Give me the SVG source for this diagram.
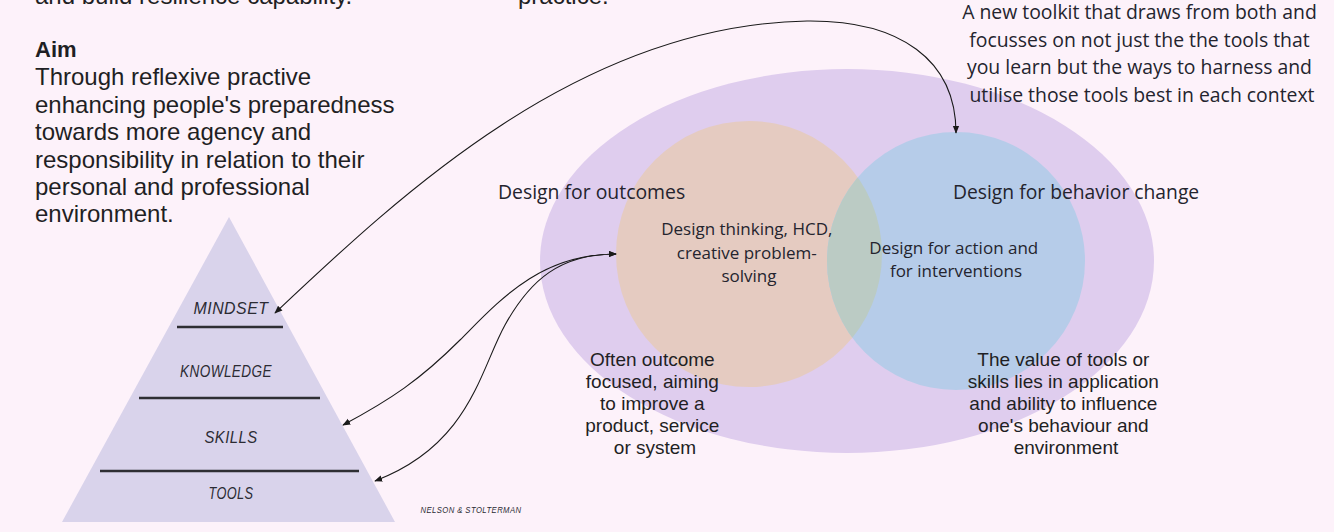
<svg xmlns="http://www.w3.org/2000/svg" width="1334" height="532" viewBox="0 0 1334 532">
  <defs>
    <style>
      .sans { font-family: "Liberation Sans", Arial, sans-serif; fill: #1f1f24; }
      .open { font-family: "Open Sans", "Noto Sans", sans-serif; fill: #24242e; }
      .hand { font-family: "Liberation Sans", Arial, sans-serif; font-style: italic; fill: #2b2b33; letter-spacing: 0.5px; }
      .level { stroke: #2e2e33; stroke-width: 2.6; }
      .conn { fill: none; stroke: #1a1a1a; stroke-width: 1.1; }
    </style>
    <marker id="arrow" viewBox="0 0 10 10" refX="9" refY="5" markerWidth="8" markerHeight="8" markerUnits="userSpaceOnUse" orient="auto-start-reverse">
      <path d="M0,1 L10,5 L0,9 z" fill="#1a1a1a"/>
    </marker>
    <clipPath id="orangeClip">
      <circle cx="749" cy="254" r="133"/>
    </clipPath>
  </defs>

  <rect x="0" y="0" width="1334" height="532" fill="#fdf2fa"/>

  <!-- Top cut-off text (cut off in the reference as well) -->
  <g id="top-text">
    <text class="sans" x="35" y="4" font-size="24">and build resilience capability.</text>
    <text class="sans" x="518" y="4" font-size="24">practice.</text>
  </g>

  <!-- Aim text -->
  <g id="aim">
    <text class="sans" x="35" y="57" font-size="22" font-weight="bold">Aim</text>
    <text class="sans" font-size="24">
      <tspan x="35" y="85">Through reflexive practive</tspan>
      <tspan x="35" y="112.5">enhancing people's preparedness</tspan>
      <tspan x="35" y="140">towards more agency and</tspan>
      <tspan x="35" y="167.5">responsibility in relation to their</tspan>
      <tspan x="35" y="195">personal and professional</tspan>
      <tspan x="35" y="222">environment.</tspan>
    </text>
  </g>

  <!-- Pyramid -->
  <g id="pyramid">
    <polygon points="229,217 62,522 395,522" fill="#d9d3eb"/>
    <line class="level" x1="177" y1="327" x2="283" y2="327"/>
    <line class="level" x1="139" y1="398" x2="320" y2="398"/>
    <line class="level" x1="100" y1="471" x2="359" y2="471"/>
  </g>
  <g id="mindset"><text class="hand" x="231" y="314" font-size="16" text-anchor="middle" textLength="75" lengthAdjust="spacingAndGlyphs">MINDSET</text></g>
  <g id="knowledge"><text class="hand" x="226" y="377" font-size="16" text-anchor="middle" textLength="92" lengthAdjust="spacingAndGlyphs">KNOWLEDGE</text></g>
  <g id="skills"><text class="hand" x="231" y="443" font-size="16" text-anchor="middle" textLength="53" lengthAdjust="spacingAndGlyphs">SKILLS</text></g>
  <g id="tools"><text class="hand" x="231" y="499" font-size="16" text-anchor="middle" textLength="45" lengthAdjust="spacingAndGlyphs">TOOLS</text></g>
  <g id="credit"><text class="hand" x="471" y="513" font-size="9" text-anchor="middle" textLength="101" lengthAdjust="spacingAndGlyphs">NELSON &amp; STOLTERMAN</text></g>

  <!-- Venn -->
  <g id="outer-ellipse">
    <ellipse cx="847" cy="261" rx="307" ry="192" fill="#dfcdee"/>
  </g>
  <g id="outcomes-circle">
    <circle cx="749" cy="254" r="133" fill="#e5cbc1"/>
  </g>
  <g id="behavior-circle">
    <circle cx="956" cy="261" r="129" fill="#b6cce9"/>
    <circle cx="956" cy="261" r="129" fill="#bbcbc4" clip-path="url(#orangeClip)"/>
  </g>

  <g id="label-outcomes"><text class="open" x="498" y="199" font-size="19.4">Design for outcomes</text></g>
  <g id="label-behavior"><text class="open" x="953" y="199" font-size="19.3">Design for behavior change</text></g>
  <g id="label-thinking">
    <text class="open" font-size="17" text-anchor="middle">
      <tspan x="749" y="235">Design thinking, HCD,</tspan>
      <tspan x="749" y="258.5">creative problem-</tspan>
      <tspan x="749" y="282">solving</tspan>
    </text>
  </g>
  <g id="label-action">
    <text class="open" font-size="17" text-anchor="middle">
      <tspan x="956" y="254">Design for action and</tspan>
      <tspan x="956" y="277">for interventions</tspan>
    </text>
  </g>

  <g id="note-outcome">
    <text class="sans" font-size="19" text-anchor="middle">
      <tspan x="655" y="366">Often outcome</tspan>
      <tspan x="655" y="388">focused, aiming</tspan>
      <tspan x="655" y="410">to improve a</tspan>
      <tspan x="655" y="432">product, service</tspan>
      <tspan x="655" y="454">or system</tspan>
    </text>
  </g>
  <g id="note-behavior">
    <text class="sans" font-size="19" text-anchor="middle">
      <tspan x="1066" y="366">The value of tools or</tspan>
      <tspan x="1066" y="388">skills lies in application</tspan>
      <tspan x="1066" y="410">and ability to influence</tspan>
      <tspan x="1066" y="432">one's behaviour and</tspan>
      <tspan x="1066" y="454">environment</tspan>
    </text>
  </g>

  <g id="note-toolkit">
    <text class="open" font-size="19.4" text-anchor="middle">
      <tspan x="1142" y="19">A new toolkit that draws from both and</tspan>
      <tspan x="1142" y="46.5">focusses on not just the the tools that</tspan>
      <tspan x="1142" y="74">you learn but the ways to harness and</tspan>
      <tspan x="1142" y="101.5">utilise those tools best in each context</tspan>
    </text>
  </g>

  <!-- Connectors -->
  <g id="connectors">
    <path class="conn" d="M275,313 C400,195 580,25 807,21 C900,20 956,60 956,133" marker-start="url(#arrow)" marker-end="url(#arrow)"/>
    <path class="conn" d="M616,254 C540,254 500,300 460,340 C420,380 390,400 343,425" marker-start="url(#arrow)" marker-end="url(#arrow)"/>
    <path class="conn" d="M616,254 C560,254 530,280 505,325 C480,370 470,445 375,481" marker-start="url(#arrow)" marker-end="url(#arrow)"/>
  </g>
</svg>
